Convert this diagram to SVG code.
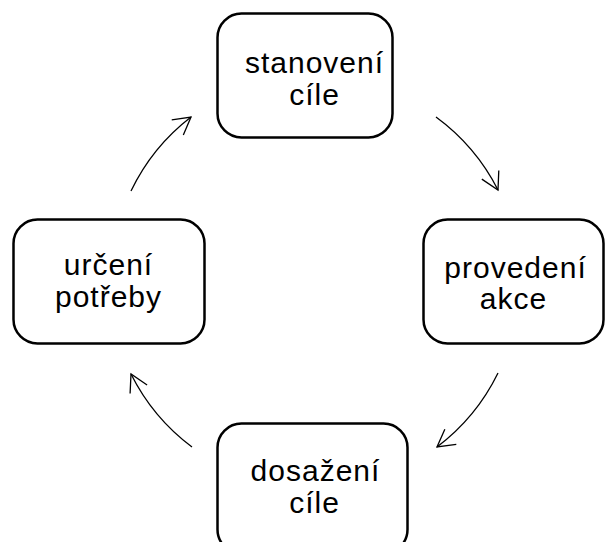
<svg xmlns="http://www.w3.org/2000/svg" width="605" height="542" viewBox="0 0 605 542">
<style>
.box{fill:#fff;stroke:#000;stroke-width:2.5}
.lbl{font-family:"Liberation Sans",Arial,sans-serif;font-size:30px;letter-spacing:1px;fill:#000;text-anchor:middle}
.arc{fill:none;stroke:#000;stroke-width:1.3}
</style>
<defs>
<marker id="ah" markerUnits="userSpaceOnUse" viewBox="-20 -12 22 24" refX="0" refY="0" markerWidth="22" markerHeight="24" orient="auto">
<path d="M-17,-9.5 L0,0 L-17,9.5" fill="none" stroke="#000" stroke-width="1.3"/>
</marker>
</defs>
<rect width="605" height="542" fill="#fff"/>
<g id="connectors">
<path class="arc" d="M436,117 A206,206 0 0 1 498,190" marker-end="url(#ah)"/>
<path class="arc" d="M498,373 A206,206 0 0 1 437,447" marker-end="url(#ah)"/>
<path class="arc" d="M192,447 A206,206 0 0 1 131,374" marker-end="url(#ah)"/>
<path class="arc" d="M131,191 A206,206 0 0 1 191,117" marker-end="url(#ah)"/>
</g>
<g id="stanoveni">
<rect class="box" x="217.5" y="13.5" width="175" height="124" rx="24"/>
<text class="lbl" x="314.5" y="73">stanovení</text>
<text class="lbl" x="314.5" y="105">cíle</text>
</g>
<g id="provedeni">
<rect class="box" x="423.5" y="219.5" width="180" height="124" rx="24"/>
<text class="lbl" x="515.5" y="278">provedení</text>
<text class="lbl" x="513.5" y="309">akce</text>
</g>
<g id="dosazeni">
<rect class="box" x="217.5" y="423.5" width="190" height="130" rx="24"/>
<text class="lbl" x="315.5" y="481">dosažení</text>
<text class="lbl" x="314.5" y="513">cíle</text>
</g>
<g id="urceni">
<rect class="box" x="13.5" y="219.5" width="191" height="124" rx="24"/>
<text class="lbl" x="108.5" y="275">určení</text>
<text class="lbl" x="108.5" y="307">potřeby</text>
</g>
</svg>
